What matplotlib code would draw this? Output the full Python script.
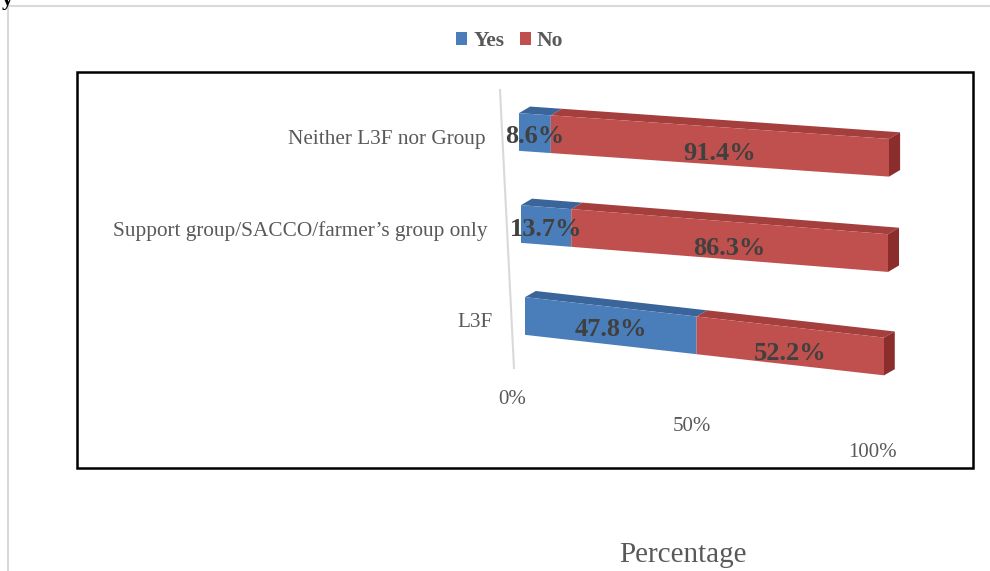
import numpy as np
import matplotlib
matplotlib.use('Agg')
import matplotlib.pyplot as plt
from matplotlib.transforms import Affine2D
from matplotlib.patches import Polygon, Rectangle
from matplotlib.lines import Line2D

# data (bottom to top)
categories = ["L3F", "Support group/SACCO/farmer\u2019s group only", "Neither L3F nor Group"]
yes_vals = [47.8, 13.7, 8.6]
no_vals = [52.2, 86.3, 91.4]
tick_vals = [0, 50, 100]
tick_labels = ["0%", "50%", "100%"]

plt.rcParams['font.family'] = ['Liberation Serif', 'DejaVu Serif']

W, H = 990, 571
fig = plt.figure(figsize=(W / 100, H / 100), dpi=100)

# fake "3D" look: each row gets its own slant/scale (pixel numbers)
row_left = [525, 521, 519]
row_right = [884, 888, 889]
row_slope = [0.11, 0.079, 0.070]
ax_x0, ax_w = 520, 368

ax = fig.add_axes([ax_x0 / W, (H - 362) / H, ax_w / W, 276 / H])
ax.set_xlim(0, 100)
ax.set_ylim(-0.5, 2.5)
ax.axis('off')


def row_trans(i):
    s = (row_right[i] - row_left[i]) / ax_w
    k = row_slope[i]
    m = np.array([[s, 0, row_left[i] - ax_x0 * s],
                  [-k, 1, ax_x0 * k],
                  [0, 0, 1]])
    return ax.transData + Affine2D(m)


blue = '#4A7EBB'
blue_top = '#3A659B'
red = '#C0504D'
red_top = '#A43F3D'
red_side = '#8B2D2C'

bh = 0.41
ddx = 3.0
ddy = 0.08

yes_h = None
no_h = None
for i in range(len(categories)):
    tr = row_trans(i)
    y0 = i - bh / 2
    y1 = i + bh / 2
    y_ = yes_vals[i]
    tot = yes_vals[i] + no_vals[i]
    # top faces
    ax.add_patch(Polygon([[0, y1], [y_, y1], [y_ + ddx, y1 + ddy], [ddx, y1 + ddy]],
                         closed=True, fc=blue_top, ec='none', transform=tr, clip_on=False))
    ax.add_patch(Polygon([[y_, y1], [tot, y1], [tot + ddx, y1 + ddy], [y_ + ddx, y1 + ddy]],
                         closed=True, fc=red_top, ec='none', transform=tr, clip_on=False))
    # front faces
    b1 = ax.barh(i, yes_vals[i], height=bh, color=blue, transform=tr, clip_on=False)
    b2 = ax.barh(i, no_vals[i], left=yes_vals[i], height=bh, color=red, transform=tr,
                 clip_on=False)
    # right side face
    ax.add_patch(Polygon([[tot, y0], [tot, y1], [tot + ddx, y1 + ddy], [tot + ddx, y0 + ddy]],
                         closed=True, fc=red_side, ec='none', transform=tr, clip_on=False))
    if yes_h is None:
        yes_h, no_h = b1, b2

    # value labels
    ax.text(y_ / 2, i - 0.04, f"{yes_vals[i]}%", transform=tr, ha='center', va='center',
            fontsize=19, fontweight='bold', color='#404040')
    ax.text(y_ + no_vals[i] / 2, i - 0.085, f"{no_vals[i]}%", transform=tr, ha='center',
            va='center', fontsize=19, fontweight='bold', color='#404040')
    # category labels
    ax.text(-9, i - 0.11, categories[i], transform=tr, ha='right', va='center',
            fontsize=15.3, color='#595959')

# x tick labels sit on a slanted "floor"
s = 360 / ax_w
tick_m = np.array([[s, 0, 512 - ax_x0 * s],
                   [-0.142, 1, 0.142 * ax_x0 - 38],
                   [0, 0, 1]])
tick_tr = ax.transData + Affine2D(tick_m)
for v, lab in zip(tick_vals, tick_labels):
    ax.text(v, -0.5, lab, transform=tick_tr, ha='center', va='center',
            fontsize=15, color='#595959')

# slanted value axis line
fig.add_artist(Line2D([500 / W, 514 / W], [1 - 90 / H, 1 - 368 / H], color='#D9D9D9', lw=1.5))

# outer frame and page lines
fig.add_artist(Rectangle((77 / W, 1 - 468 / H), (973 - 77) / W, (468 - 72) / H,
                         fill=False, ec='black', lw=1.8, transform=fig.transFigure))
fig.add_artist(Line2D([8 / W, 8 / W], [0, 1 - 6 / H], color='#D9D9D9', lw=1.5))
fig.add_artist(Line2D([8 / W, 1], [1 - 6 / H, 1 - 6 / H], color='#D9D9D9', lw=1.5))
fig.text(0.002, 1.0, 'y', fontsize=16, fontweight='bold', va='center', ha='left')

fig.legend([yes_h, no_h], ["Yes", "No"], loc='center', bbox_to_anchor=(510 / W, 1 - 41 / H),
           ncol=2, frameon=False, handlelength=0.5, handleheight=0.6, handletextpad=0.3,
           columnspacing=0.7, prop={'size': 15.5, 'weight': 'bold'}, labelcolor='#595959')

fig.text(683 / W, 1 - 555 / H, "Percentage", ha='center', va='center', fontsize=21, color='#595959')

fig.savefig('out.png', dpi=100)
